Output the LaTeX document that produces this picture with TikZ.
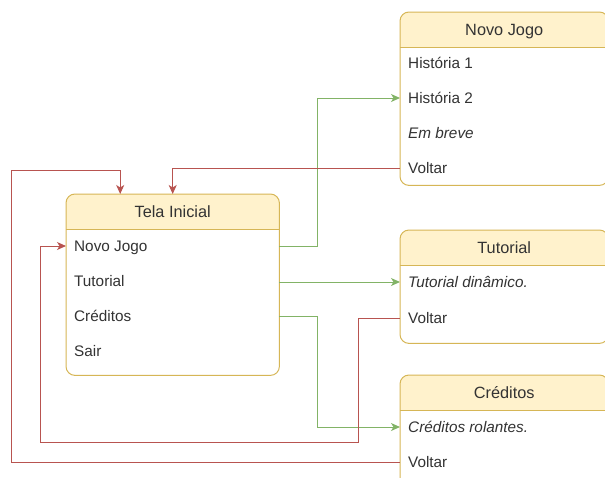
\documentclass[tikz,border=0pt]{standalone}
\usepackage{fontspec}
\setmainfont{Liberation Sans}
\usetikzlibrary{arrows.meta,positioning}
\definecolor{hdfill}{HTML}{FFF2CC}
\definecolor{hdline}{HTML}{D6B656}
\definecolor{okline}{HTML}{82B366}
\definecolor{backline}{HTML}{B85450}
\definecolor{txt}{HTML}{333333}
% header band, divider, border and title of a card node
\newcommand{\cardhead}[2]{%
  \begin{scope}
    \clip[rounded corners=9pt] (#1.north west) rectangle (#1.south east);
    \fill[hdfill] (#1.north west) rectangle ([yshift=-35pt]#1.north east);
  \end{scope}
  \draw[hdline, line width=1pt] ([yshift=-35pt]#1.north west) -- ([yshift=-35pt]#1.north east);
  \draw[hdline, line width=1pt, rounded corners=9pt] (#1.north west) rectangle (#1.south east);
  \node[title] (#1-title) at ([yshift=-18pt]#1.north) {#2};
}

\begin{document}
\begin{tikzpicture}[
  x=1pt, y=-1pt,
  font=\fontsize{15.3}{18}\selectfont, text=txt,
  card/.style={anchor=north west, inner sep=0pt, fill=white, rounded corners=9pt},
  row/.style={anchor=west, inner sep=0pt, text height=11pt, text depth=0pt},
  title/.style={font=\fontsize{16.3}{19}\selectfont, text height=11.5pt, text depth=0pt},
  go/.style={draw=okline, line width=1pt, -{Stealth[length=9pt, width=8pt, inset=2.5pt]}},
  back/.style={draw=backline, line width=1pt, -{Stealth[length=9pt, width=8pt, inset=2.5pt]}}
]
\useasboundingbox (0,0) rectangle (605,477);
\clip (0,0) rectangle (605,477);
% start screen
\node[card, minimum width=213pt, minimum height=181pt] (tela) at (66,194) {};
\cardhead{tela}{Tela Inicial}
\node[row] (tl-novo) at (74,246) {Novo Jogo};
\node[row] (tl-tut) at (74,281) {Tutorial};
\node[row] (tl-cred) at (74,316) {Créditos};
\node[row] (tl-sair) at (74,351) {Sair};
% new game screen
\node[card, minimum width=208pt, minimum height=173pt] (nj) at (400,12) {};
\cardhead{nj}{Novo Jogo}
\node[row] (nj-hist1) at (408,63) {História 1};
\node[row] (nj-hist2) at (408,98) {História 2};
\node[row] (nj-breve) at (408,133) {\itshape Em breve};
\node[row] (nj-volt) at (408,168) {Voltar};
% tutorial screen
\node[card, minimum width=208pt, minimum height=113pt] (tu) at (400,230) {};
\cardhead{tu}{Tutorial}
\node[row] (tu-din) at (408,282) {\itshape Tutorial dinâmico.};
\node[row] (tu-volt) at (408,318) {Voltar};
% credits screen
\node[card, minimum width=208pt, minimum height=120pt] (cr) at (400,375) {};
\cardhead{cr}{Créditos}
\node[row] (cr-rol) at (408,427) {\itshape Créditos rolantes.};
\node[row] (cr-volt) at (408,462) {Voltar};
% forward links
\draw[go] (tela.east |- tl-novo) -- ++(38,0) |- (nj.west |- nj-hist2);
\draw[go] (tela.east |- tu-din) -- (tu.west |- tu-din);
\draw[go] (tela.east |- tl-cred) -- ++(38,0) |- (cr.west |- cr-rol);
% back links
\draw[back] (nj.west |- nj-volt) -| (tela.north);
\draw[back] (cr.west |- cr-volt) -| (11,170) -| ([xshift=-52.5pt]tela.north);
\draw[back] (tu.west |- tu-volt) -| (358,442) -| (40,246) -- (tela.west |- tl-novo);
\end{tikzpicture}
\end{document}
